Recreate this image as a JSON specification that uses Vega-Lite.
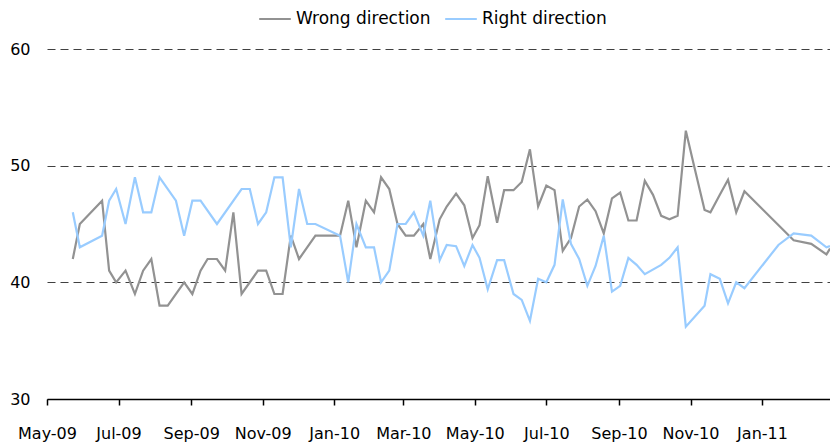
{
  "$schema": "https://vega.github.io/schema/vega-lite/v6.json",
  "width": 783,
  "height": 350,
  "autosize": {"type": "none"},
  "padding": {"left": 47, "top": 49, "right": 0, "bottom": 46},
  "background": "white",
  "config": {
    "view": {"stroke": null},
    "font": "DejaVu Sans",
    "axis": {"labelFont": "DejaVu Sans", "labelColor": "#000000", "labelFontSize": 16},
    "legend": {"labelFont": "DejaVu Sans", "labelColor": "#000000", "labelFontSize": 17}
  },
  "datasets": {
    "polls": [
      {"date": "2009-05-23", "series": "Wrong direction", "value": 42},
      {"date": "2009-05-29", "series": "Wrong direction", "value": 45},
      {"date": "2009-06-17", "series": "Wrong direction", "value": 47},
      {"date": "2009-06-23", "series": "Wrong direction", "value": 41},
      {"date": "2009-06-29", "series": "Wrong direction", "value": 40},
      {"date": "2009-07-07", "series": "Wrong direction", "value": 41},
      {"date": "2009-07-15", "series": "Wrong direction", "value": 39},
      {"date": "2009-07-22", "series": "Wrong direction", "value": 41},
      {"date": "2009-07-29", "series": "Wrong direction", "value": 42},
      {"date": "2009-08-05", "series": "Wrong direction", "value": 38},
      {"date": "2009-08-12", "series": "Wrong direction", "value": 38},
      {"date": "2009-08-26", "series": "Wrong direction", "value": 40},
      {"date": "2009-09-02", "series": "Wrong direction", "value": 39},
      {"date": "2009-09-09", "series": "Wrong direction", "value": 41},
      {"date": "2009-09-15", "series": "Wrong direction", "value": 42},
      {"date": "2009-09-23", "series": "Wrong direction", "value": 42},
      {"date": "2009-09-30", "series": "Wrong direction", "value": 41},
      {"date": "2009-10-07", "series": "Wrong direction", "value": 46},
      {"date": "2009-10-14", "series": "Wrong direction", "value": 39},
      {"date": "2009-10-28", "series": "Wrong direction", "value": 41},
      {"date": "2009-11-04", "series": "Wrong direction", "value": 41},
      {"date": "2009-11-11", "series": "Wrong direction", "value": 39},
      {"date": "2009-11-18", "series": "Wrong direction", "value": 39},
      {"date": "2009-11-25", "series": "Wrong direction", "value": 44},
      {"date": "2009-12-02", "series": "Wrong direction", "value": 42},
      {"date": "2009-12-16", "series": "Wrong direction", "value": 44},
      {"date": "2010-01-06", "series": "Wrong direction", "value": 44},
      {"date": "2010-01-13", "series": "Wrong direction", "value": 47},
      {"date": "2010-01-20", "series": "Wrong direction", "value": 43},
      {"date": "2010-01-28", "series": "Wrong direction", "value": 47},
      {"date": "2010-02-04", "series": "Wrong direction", "value": 46},
      {"date": "2010-02-10", "series": "Wrong direction", "value": 49},
      {"date": "2010-02-17", "series": "Wrong direction", "value": 48},
      {"date": "2010-02-24", "series": "Wrong direction", "value": 45},
      {"date": "2010-03-03", "series": "Wrong direction", "value": 44},
      {"date": "2010-03-10", "series": "Wrong direction", "value": 44},
      {"date": "2010-03-18", "series": "Wrong direction", "value": 45},
      {"date": "2010-03-24", "series": "Wrong direction", "value": 42},
      {"date": "2010-04-01", "series": "Wrong direction", "value": 45.4},
      {"date": "2010-04-07", "series": "Wrong direction", "value": 46.5},
      {"date": "2010-04-15", "series": "Wrong direction", "value": 47.6},
      {"date": "2010-04-22", "series": "Wrong direction", "value": 46.6},
      {"date": "2010-04-29", "series": "Wrong direction", "value": 43.8},
      {"date": "2010-05-05", "series": "Wrong direction", "value": 44.9},
      {"date": "2010-05-12", "series": "Wrong direction", "value": 49.1},
      {"date": "2010-05-20", "series": "Wrong direction", "value": 45.1},
      {"date": "2010-05-26", "series": "Wrong direction", "value": 47.9},
      {"date": "2010-06-03", "series": "Wrong direction", "value": 47.9},
      {"date": "2010-06-10", "series": "Wrong direction", "value": 48.6},
      {"date": "2010-06-17", "series": "Wrong direction", "value": 51.4},
      {"date": "2010-06-24", "series": "Wrong direction", "value": 46.5},
      {"date": "2010-07-01", "series": "Wrong direction", "value": 48.3},
      {"date": "2010-07-08", "series": "Wrong direction", "value": 47.9},
      {"date": "2010-07-15", "series": "Wrong direction", "value": 42.7},
      {"date": "2010-07-22", "series": "Wrong direction", "value": 43.8},
      {"date": "2010-07-29", "series": "Wrong direction", "value": 46.5},
      {"date": "2010-08-05", "series": "Wrong direction", "value": 47.1},
      {"date": "2010-08-12", "series": "Wrong direction", "value": 46.1},
      {"date": "2010-08-19", "series": "Wrong direction", "value": 44.2},
      {"date": "2010-08-26", "series": "Wrong direction", "value": 47.2},
      {"date": "2010-09-02", "series": "Wrong direction", "value": 47.7},
      {"date": "2010-09-09", "series": "Wrong direction", "value": 45.3},
      {"date": "2010-09-16", "series": "Wrong direction", "value": 45.3},
      {"date": "2010-09-23", "series": "Wrong direction", "value": 48.7},
      {"date": "2010-09-30", "series": "Wrong direction", "value": 47.5},
      {"date": "2010-10-07", "series": "Wrong direction", "value": 45.7},
      {"date": "2010-10-14", "series": "Wrong direction", "value": 45.4},
      {"date": "2010-10-21", "series": "Wrong direction", "value": 45.7},
      {"date": "2010-10-28", "series": "Wrong direction", "value": 53},
      {"date": "2010-11-04", "series": "Wrong direction", "value": 50},
      {"date": "2010-11-13", "series": "Wrong direction", "value": 46.2},
      {"date": "2010-11-18", "series": "Wrong direction", "value": 46},
      {"date": "2010-11-26", "series": "Wrong direction", "value": 47.5},
      {"date": "2010-12-03", "series": "Wrong direction", "value": 48.8},
      {"date": "2010-12-10", "series": "Wrong direction", "value": 46},
      {"date": "2010-12-17", "series": "Wrong direction", "value": 47.8},
      {"date": "2011-01-28", "series": "Wrong direction", "value": 43.6},
      {"date": "2011-02-12", "series": "Wrong direction", "value": 43.3},
      {"date": "2011-02-25", "series": "Wrong direction", "value": 42.4},
      {"date": "2011-02-28", "series": "Wrong direction", "value": 42.9},
      {"date": "2009-05-23", "series": "Right direction", "value": 46},
      {"date": "2009-05-29", "series": "Right direction", "value": 43},
      {"date": "2009-06-17", "series": "Right direction", "value": 44},
      {"date": "2009-06-23", "series": "Right direction", "value": 47},
      {"date": "2009-06-29", "series": "Right direction", "value": 48},
      {"date": "2009-07-07", "series": "Right direction", "value": 45},
      {"date": "2009-07-15", "series": "Right direction", "value": 49},
      {"date": "2009-07-22", "series": "Right direction", "value": 46},
      {"date": "2009-07-29", "series": "Right direction", "value": 46},
      {"date": "2009-08-05", "series": "Right direction", "value": 49},
      {"date": "2009-08-19", "series": "Right direction", "value": 47},
      {"date": "2009-08-26", "series": "Right direction", "value": 44},
      {"date": "2009-09-02", "series": "Right direction", "value": 47},
      {"date": "2009-09-09", "series": "Right direction", "value": 47},
      {"date": "2009-09-23", "series": "Right direction", "value": 45},
      {"date": "2009-10-14", "series": "Right direction", "value": 48},
      {"date": "2009-10-21", "series": "Right direction", "value": 48},
      {"date": "2009-10-28", "series": "Right direction", "value": 45},
      {"date": "2009-11-04", "series": "Right direction", "value": 46},
      {"date": "2009-11-11", "series": "Right direction", "value": 49},
      {"date": "2009-11-18", "series": "Right direction", "value": 49},
      {"date": "2009-11-25", "series": "Right direction", "value": 43},
      {"date": "2009-12-02", "series": "Right direction", "value": 48},
      {"date": "2009-12-09", "series": "Right direction", "value": 45},
      {"date": "2009-12-16", "series": "Right direction", "value": 45},
      {"date": "2010-01-06", "series": "Right direction", "value": 44},
      {"date": "2010-01-13", "series": "Right direction", "value": 40},
      {"date": "2010-01-20", "series": "Right direction", "value": 45},
      {"date": "2010-01-28", "series": "Right direction", "value": 43},
      {"date": "2010-02-04", "series": "Right direction", "value": 43},
      {"date": "2010-02-10", "series": "Right direction", "value": 40},
      {"date": "2010-02-17", "series": "Right direction", "value": 41},
      {"date": "2010-02-24", "series": "Right direction", "value": 45},
      {"date": "2010-03-03", "series": "Right direction", "value": 45},
      {"date": "2010-03-10", "series": "Right direction", "value": 46},
      {"date": "2010-03-18", "series": "Right direction", "value": 44},
      {"date": "2010-03-24", "series": "Right direction", "value": 47},
      {"date": "2010-04-01", "series": "Right direction", "value": 41.9},
      {"date": "2010-04-07", "series": "Right direction", "value": 43.2},
      {"date": "2010-04-15", "series": "Right direction", "value": 43.1},
      {"date": "2010-04-22", "series": "Right direction", "value": 41.4},
      {"date": "2010-04-29", "series": "Right direction", "value": 43.2},
      {"date": "2010-05-05", "series": "Right direction", "value": 42.1},
      {"date": "2010-05-12", "series": "Right direction", "value": 39.4},
      {"date": "2010-05-20", "series": "Right direction", "value": 41.9},
      {"date": "2010-05-26", "series": "Right direction", "value": 41.9},
      {"date": "2010-06-03", "series": "Right direction", "value": 39},
      {"date": "2010-06-10", "series": "Right direction", "value": 38.5},
      {"date": "2010-06-17", "series": "Right direction", "value": 36.7},
      {"date": "2010-06-24", "series": "Right direction", "value": 40.3},
      {"date": "2010-07-01", "series": "Right direction", "value": 40},
      {"date": "2010-07-08", "series": "Right direction", "value": 41.5},
      {"date": "2010-07-15", "series": "Right direction", "value": 47.1},
      {"date": "2010-07-22", "series": "Right direction", "value": 43.3},
      {"date": "2010-07-29", "series": "Right direction", "value": 42},
      {"date": "2010-08-05", "series": "Right direction", "value": 39.7},
      {"date": "2010-08-12", "series": "Right direction", "value": 41.4},
      {"date": "2010-08-19", "series": "Right direction", "value": 44},
      {"date": "2010-08-26", "series": "Right direction", "value": 39.2},
      {"date": "2010-09-02", "series": "Right direction", "value": 39.7},
      {"date": "2010-09-09", "series": "Right direction", "value": 42.1},
      {"date": "2010-09-16", "series": "Right direction", "value": 41.5},
      {"date": "2010-09-23", "series": "Right direction", "value": 40.7},
      {"date": "2010-10-07", "series": "Right direction", "value": 41.5},
      {"date": "2010-10-14", "series": "Right direction", "value": 42.1},
      {"date": "2010-10-21", "series": "Right direction", "value": 43},
      {"date": "2010-10-28", "series": "Right direction", "value": 36.2},
      {"date": "2010-11-13", "series": "Right direction", "value": 38},
      {"date": "2010-11-18", "series": "Right direction", "value": 40.7},
      {"date": "2010-11-26", "series": "Right direction", "value": 40.3},
      {"date": "2010-12-03", "series": "Right direction", "value": 38.2},
      {"date": "2010-12-10", "series": "Right direction", "value": 40},
      {"date": "2010-12-17", "series": "Right direction", "value": 39.5},
      {"date": "2011-01-15", "series": "Right direction", "value": 43.2},
      {"date": "2011-01-28", "series": "Right direction", "value": 44.2},
      {"date": "2011-02-12", "series": "Right direction", "value": 44},
      {"date": "2011-02-25", "series": "Right direction", "value": 43},
      {"date": "2011-02-28", "series": "Right direction", "value": 43.1}
    ]
  },
  "data": {"name": "polls"},
  "mark": {"type": "line", "strokeWidth": 2.2, "interpolate": "linear"},
  "encoding": {
    "x": {
      "field": "date",
      "type": "temporal",
      "scale": {
        "type": "utc",
        "domain": [
          {"year": 2009, "month": 5, "date": 1, "utc": true},
          {"year": 2011, "month": 2, "date": 28, "utc": true}
        ]
      },
      "axis": {
        "title": null,
        "format": "%b-%y",
        "values": [
          {"year": 2009, "month": 5, "date": 1, "utc": true},
          {"year": 2009, "month": 7, "date": 1, "utc": true},
          {"year": 2009, "month": 9, "date": 1, "utc": true},
          {"year": 2009, "month": 11, "date": 1, "utc": true},
          {"year": 2010, "month": 1, "date": 1, "utc": true},
          {"year": 2010, "month": 3, "date": 1, "utc": true},
          {"year": 2010, "month": 5, "date": 1, "utc": true},
          {"year": 2010, "month": 7, "date": 1, "utc": true},
          {"year": 2010, "month": 9, "date": 1, "utc": true},
          {"year": 2010, "month": 11, "date": 1, "utc": true},
          {"year": 2011, "month": 1, "date": 1, "utc": true}
        ],
        "grid": false,
        "domainColor": "#000000",
        "domainWidth": 1.5,
        "tickColor": "#000000",
        "tickSize": 6,
        "tickWidth": 1.5,
        "labelPadding": 20,
        "labelOverlap": false,
        "labelFlush": false,
        "labelBound": false
      }
    },
    "y": {
      "field": "value",
      "type": "quantitative",
      "scale": {"domain": [30, 60], "nice": false, "zero": false},
      "axis": {
        "title": null,
        "values": [30, 40, 50, 60],
        "domain": false,
        "ticks": false,
        "labelPadding": 17,
        "grid": true,
        "gridColor": "#404040",
        "gridDash": [8, 5],
        "gridWidth": 1.2
      }
    },
    "color": {
      "field": "series",
      "type": "nominal",
      "scale": {"domain": ["Wrong direction", "Right direction"], "range": ["#929292", "#99CCFF"]},
      "legend": {
        "title": null,
        "orient": "none",
        "legendX": 211,
        "legendY": -47,
        "direction": "horizontal",
        "symbolType": "stroke",
        "symbolSize": 1000,
        "symbolStrokeWidth": 2,
        "labelOffset": 4,
        "columnPadding": 10
      }
    }
  }
}
